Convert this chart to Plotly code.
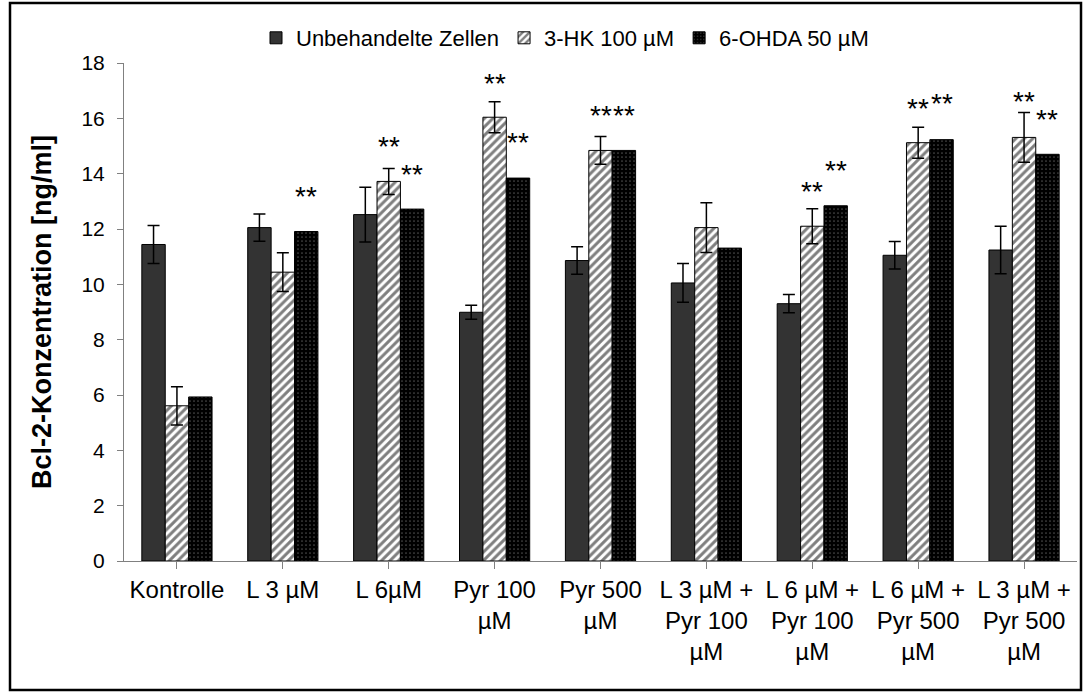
import plotly.graph_objects as go

categories = ["Kontrolle", "L 3 µM", "L 6µM", "Pyr 100<br>µM", "Pyr 500<br>µM",
              "L 3 µM +<br>Pyr 100<br>µM", "L 6 µM +<br>Pyr 100<br>µM",
              "L 6 µM +<br>Pyr 500<br>µM", "L 3 µM +<br>Pyr 500<br>µM"]

unbehandelt = [11.44, 12.05, 12.52, 8.99, 10.86, 10.05, 9.30, 11.05, 11.24]
unbehandelt_err = [0.69, 0.49, 0.99, 0.25, 0.5, 0.7, 0.33, 0.5, 0.86]
hk = [5.61, 10.44, 13.72, 16.04, 14.84, 12.05, 12.10, 15.12, 15.31]
hk_err = [0.69, 0.7, 0.47, 0.56, 0.5, 0.9, 0.63, 0.56, 0.9]
ohda = [5.93, 11.91, 12.72, 13.84, 14.84, 11.31, 12.84, 15.23, 14.70]

# significance marks: category index, series index (0,1,2), height of the stars
sig_cat = [1, 2, 2, 3, 3, 4, 4, 6, 6, 7, 7, 8, 8]
sig_ser = [2, 1, 2, 1, 2, 1, 2, 1, 2, 1, 2, 1, 2]
sig_y = [13.29, 15.09, 14.09, 17.36, 15.23, 16.22, 16.22, 13.48, 14.21, 16.46, 16.64, 16.70, 16.06]

bargap = 0.337
font = "Liberation Sans, Arial, sans-serif"
W, H = 1084, 693
L, R, T, B = 124, 7, 63, 132
pw, ph = W - L - R, H - T - B

fig = go.Figure()
fig.add_bar(x=list(range(9)), y=unbehandelt, name="Unbehandelte Zellen",
            marker=dict(color="#333333", line=dict(color="black", width=1)),
            error_y=dict(type="data", array=unbehandelt_err, color="black", thickness=1.5, width=6))
fig.add_bar(x=list(range(9)), y=hk, name="3-HK 100 µM",
            marker=dict(color="white", line=dict(color="black", width=1),
                        pattern=dict(shape="/", bgcolor="white", fgcolor="black", size=6, solidity=0.5)),
            error_y=dict(type="data", array=hk_err, color="black", thickness=1.5, width=6))
fig.add_bar(x=list(range(9)), y=ohda, name="6-OHDA 50 µM",
            marker=dict(color="black", line=dict(color="black", width=1),
                        pattern=dict(shape=".", bgcolor="black", fgcolor="#9a9a9a", size=4, solidity=0.15)))

w = (1 - bargap) / 3
for c, s, yv in zip(sig_cat, sig_ser, sig_y):
    fig.add_annotation(x=c + (s - 1) * w, y=yv, text="**", showarrow=False,
                       font=dict(size=28, color="black", family=font), yshift=-3)

fig.update_layout(
    width=W, height=H,
    barmode="group", bargap=bargap, bargroupgap=0,
    paper_bgcolor="white", plot_bgcolor="white",
    font=dict(family=font, size=20, color="black"),
    margin=dict(l=L, r=R, t=T, b=B, autoexpand=False),
    legend=dict(orientation="h", xref="container", yref="container",
                x=565 / W, xanchor="center", y=1 - 38 / H, yanchor="middle",
                font=dict(size=22), bgcolor="rgba(0,0,0,0)", traceorder="normal"),
    xaxis=dict(tickmode="array", tickvals=list(range(9)), ticktext=categories,
               range=[-0.5, 8.5], showline=True, linecolor="#808080", linewidth=1,
               ticks="outside", ticklen=7, tickcolor="#808080", tickson="boundaries",
               tickfont=dict(size=24)),
    yaxis=dict(range=[0, 18], dtick=2, showline=True, linecolor="#808080", linewidth=1,
               ticks="outside", ticklen=6, tickcolor="#808080", showgrid=False, zeroline=False,
               tickfont=dict(size=21), ticklabelstandoff=8,
               title=dict(text="<b>Bcl-2-Konzentration [ng/ml]</b>", font=dict(size=27), standoff=21)),
    shapes=[dict(type="rect", xref="paper", yref="paper",
                 x0=-(L - 10) / pw, x1=1 + (R - 3) / pw, y0=-(B - 3) / ph, y1=1 + (T - 3) / ph,
                 line=dict(color="black", width=2.5))],
)

fig.write_html("out.html", config={"displayModeBar": False},
               post_script="document.body.style.margin='0px';")
